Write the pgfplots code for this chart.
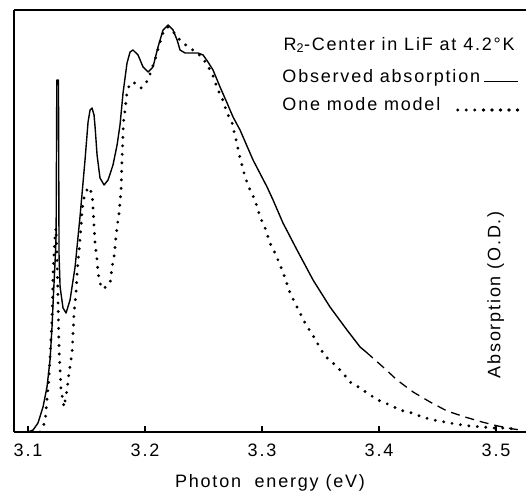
\documentclass[border=0pt]{standalone}
\usepackage{fontspec}
\setmainfont{Liberation Sans}[LetterSpace=10]
\usepackage{pgfplots}
\pgfplotsset{compat=1.18}
\pgfplotsset{
  obsleg/.style={legend image code/.code={\draw[##1] (2pt,-5pt) -- (36pt,-5pt);}},
  modleg/.style={legend image code/.code={%
    \path (2pt,-5pt) -- (36pt,-5pt);
    \draw[##1, overlay] (-24pt,-5pt) -- (36pt,-5pt);}},
}
\newcommand{\chartfont}{\fontsize{18}{21}\selectfont}

% observed absorption (solid part), photon energy in eV, absorption in arbitrary units
\pgfplotstableread{
x y
3.1000 0
3.1043 2
3.1085 9
3.1128 25
3.1162 45
3.1188 72
3.1205 105
3.1218 139
3.1231 170
3.1240 197
3.1246 352
3.1260 352
3.1265 177
3.1274 145
3.1299 124
3.1325 119
3.1359 132
3.1402 165
3.1444 215
3.1487 272
3.1513 310
3.1530 322
3.1547 324
3.1564 317
3.1573 305
3.1590 277
3.1615 254
3.1650 247
3.1684 252
3.1726 267
3.1761 287
3.1786 307
3.1812 339
3.1846 369
3.1872 380
3.1897 382
3.1940 377
3.1983 365
3.2026 360
3.2068 365
3.2111 385
3.2154 402
3.2197 407
3.2239 402
3.2274 392
3.2299 382
3.2342 379
3.2402 379
3.2453 379
3.2496 377
3.2538 370
3.2581 362
3.2641 345
3.2701 329
3.2752 315
3.2812 302
3.2923 272
3.3043 245
3.3094 232
3.3179 209
3.3299 182
3.3436 152
3.3581 125
3.3726 102
3.3838 85
3.3889 80
}\observed

% observed absorption, extrapolated tail (dashed)
\pgfplotstableread{
x y
3.3889 80
3.4034 65
3.4154 52
3.4291 40
3.4436 30
3.4581 21
3.4735 15
3.4880 10
3.5017 6
3.5145 3
3.5222 2
}\tail

% one mode model
\pgfplotstableread{
x y
3.1103 0
3.1145 10
3.1162 32
3.1179 54
3.1188 75
3.1197 95
3.1205 115
3.1209 132
3.1214 159
3.1222 179
3.1231 195
3.1239 204
3.1248 175
3.1252 155
3.1256 132
3.1261 105
3.1265 82
3.1274 62
3.1282 42
3.1308 25
3.1333 42
3.1350 59
3.1376 79
3.1385 99
3.1393 119
3.1410 139
3.1419 159
3.1436 182
3.1453 205
3.1462 222
3.1479 235
3.1504 242
3.1513 245
3.1547 239
3.1556 222
3.1564 205
3.1573 189
3.1590 172
3.1598 159
3.1624 145
3.1641 143
3.1684 147
3.1701 149
3.1718 165
3.1735 175
3.1752 195
3.1761 205
3.1778 219
3.1786 229
3.1795 242
3.1799 257
3.1803 272
3.1812 299
3.1816 310
3.1829 322
3.1838 332
3.1846 340
3.1872 349
3.1915 349
3.1966 344
3.2000 347
3.2034 355
3.2085 372
3.2128 390
3.2162 402
3.2197 405
3.2231 402
3.2274 395
3.2325 389
3.2385 384
3.2444 379
3.2487 375
3.2530 367
3.2573 359
3.2598 350
3.2624 342
3.2658 334
3.2684 325
3.2709 317
3.2744 309
3.2778 292
3.2812 274
3.2855 255
3.2897 242
3.2940 232
3.2983 215
3.3026 204
3.3068 189
3.3111 179
3.3154 167
3.3197 154
3.3239 139
3.3282 129
3.3325 119
3.3368 109
3.3410 101
3.3453 93
3.3496 84
3.3538 76
3.3607 69
3.3684 60
3.3752 50
3.3838 44
3.3923 37
3.4009 31
3.4094 27
3.4179 22
3.4282 19
3.4368 15
3.4462 12
3.4564 10
3.4650 8
3.4778 6
3.4880 5
3.4974 4
3.5077 4
3.5162 3
}\model

\begin{document}
\begin{tikzpicture}
\begin{axis}[
  scale only axis,
  width=512pt, height=422pt,
  xmin=3.088, xmax=3.5256,
  ymin=0, ymax=422,
  axis x line=box,
  axis y line*=left,
  axis line style={line width=1.8pt},
  xtick={3.1,3.2,3.3,3.4,3.5},
  xticklabels={3.1,3.2,3.3,3.4,3.5},
  xtick pos=bottom,
  tick align=inside,
  major tick length=6pt,
  tick style={line width=1.2pt, black},
  ytick=\empty,
  ticklabel style={font=\chartfont},
  xticklabel style={anchor=center, yshift=-18pt},
  xlabel={Photon\ \ energy (eV)},
  xlabel style={font=\chartfont, at={(axis description cs:0.5,0)},
    anchor=center, yshift=-51pt},
  legend style={draw=none, fill=none, at={(rel axis cs:0.52,0.865)},
    anchor=north west, font=\chartfont,
    row sep=10pt, inner sep=0pt},
  legend cell align=left,
  legend plot pos=right,
]
\addplot[black, line width=1.4pt, line join=round, obsleg]
  table[x=x, y=y] {\observed};
\addlegendentry{Observed absorption}
\addplot[black, line cap=round, dash pattern=on 0pt off 8.5pt,
  line width=3.2pt, modleg]
  table[x=x, y=y] {\model};
\addlegendentry{One mode model}
\addplot[black, line width=1.3pt, dash pattern=on 9pt off 6pt, forget plot]
  table[x=x, y=y] {\tail};
\node[anchor=base west, font=\chartfont]
  at (rel axis cs:0.5195,0.905) {R\textsubscript{2}-Center in LiF at 4.2°K};
\node[rotate=90, font=\chartfont]
  at (rel axis cs:0.941,0.325) {Absorption (O.D.)};
\end{axis}
\pgfresetboundingbox
\path[use as bounding box] (-14pt,-63pt) rectangle (512pt,432pt);
\end{tikzpicture}
\end{document}
